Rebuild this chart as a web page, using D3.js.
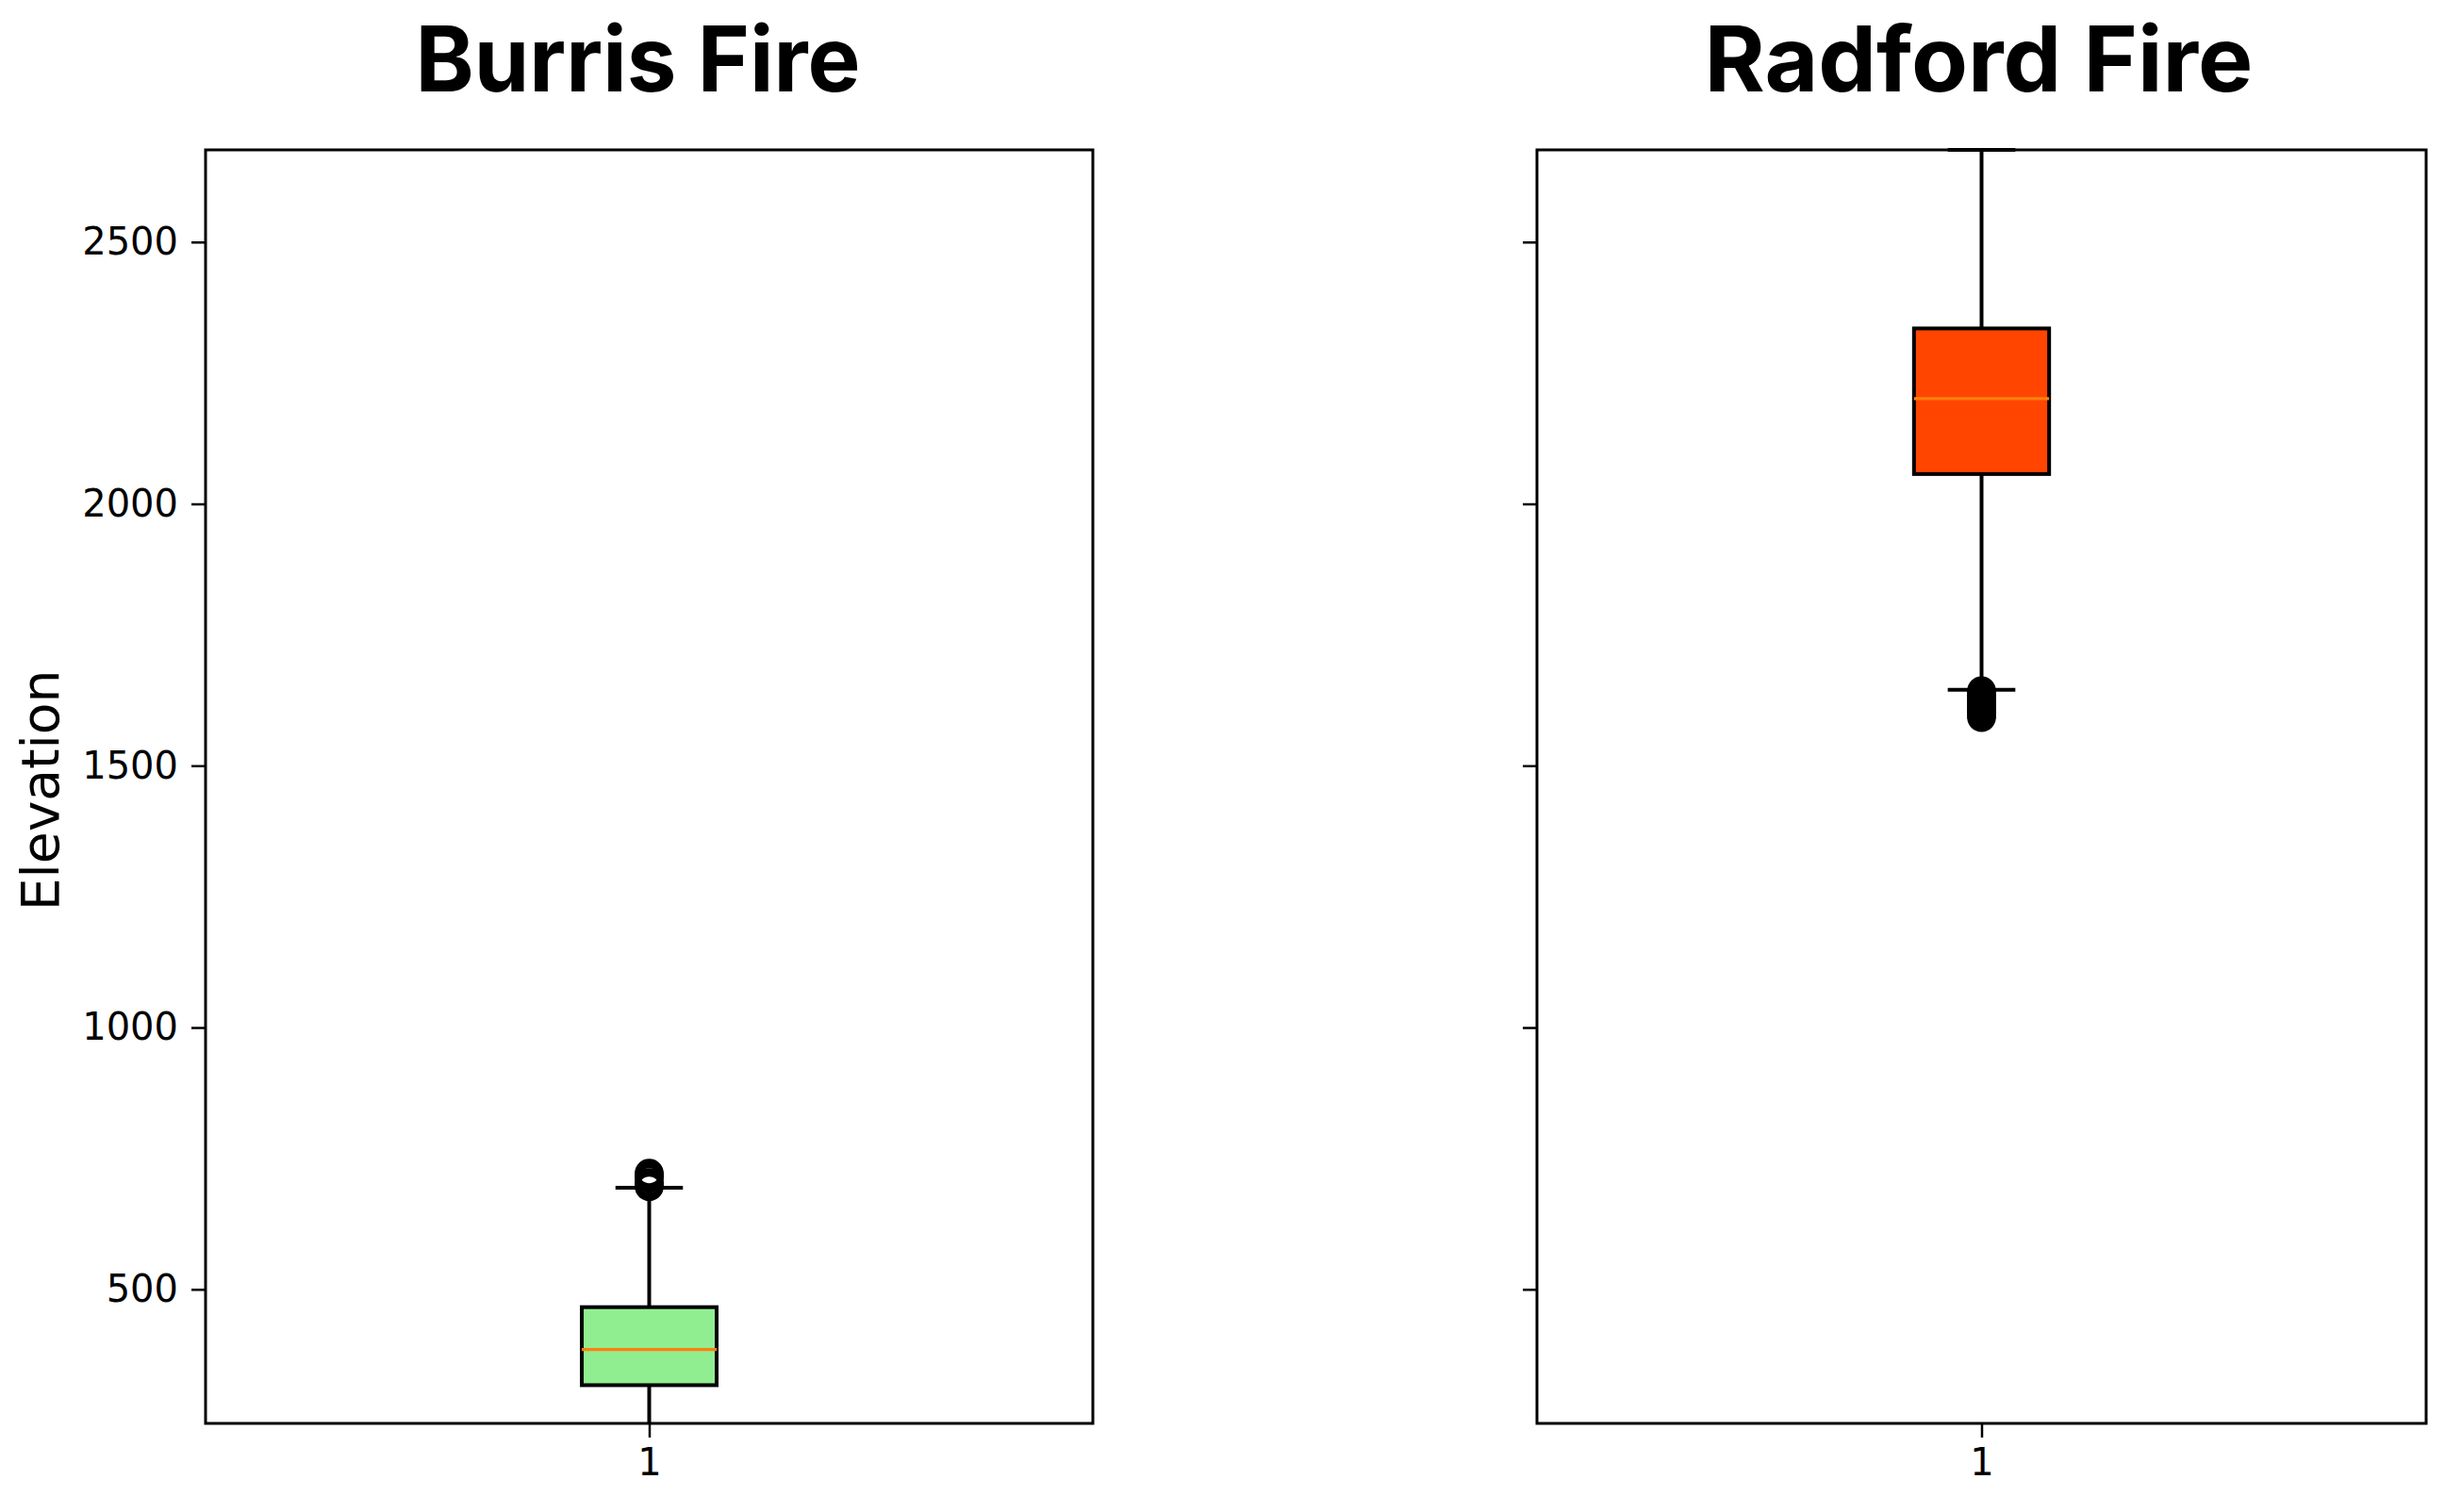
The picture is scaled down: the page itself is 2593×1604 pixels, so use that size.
<!DOCTYPE html>
<html>
<head>
<meta charset="utf-8">
<script src="https://cdn.jsdelivr.net/npm/d3@7"></script>
<style>
  html, body { margin: 0; padding: 0; background: #fff; }
  svg { display: block; }
</style>
</head>
<body>
<svg id="chart" width="2593" height="1604"></svg>
<script>
// ---- Data ----
const fires = ["Burris Fire", "Radford Fire"];
const fillColors = ["#90EE90", "#FF4500"];
// box statistics: [whiskerLow, q1, median, q3, whiskerHigh]
const burrisStats = [215, 317, 385, 466, 694];
const radfordStats = [1645, 2057, 2201, 2335, 2676];
const burrisOutliers = [696, 698, 700, 702, 704, 712, 715, 718, 720, 722];
const radfordOutliers = [1643, 1640, 1636, 1632, 1628, 1624, 1620, 1616, 1612, 1608, 1604, 1600, 1596, 1592];
const yTicks = [500, 1000, 1500, 2000, 2500];
const xTickLabels = ["1"];
const yDomain = [244, 2676];

const statsList = [burrisStats, radfordStats];
const outlierList = [burrisOutliers, radfordOutliers];

// ---- Layout ----
const plotTop = 159, plotBottom = 1510;
const panels = [
  { left: 218, right: 1159, titleShift: -12, titleLen: 472 },
  { left: 1630, right: 2573, titleShift: -3, titleLen: 582 }
];
const boxWidth = 0.152;
const capWidth = boxWidth / 2;

const svg = d3.select("#chart");
const y = d3.scaleLinear().domain(yDomain).range([plotBottom, plotTop]);

panels.forEach((p, i) => {
  const x = d3.scaleLinear().domain([0.5, 1.5]).range([p.left, p.right]);
  const g = svg.append("g");
  const clipId = "clip" + i;
  svg.append("clipPath").attr("id", clipId)
    .append("rect").attr("x", p.left).attr("y", plotTop - 2)
    .attr("width", p.right - p.left).attr("height", plotBottom - plotTop + 2);

  const [wLo, q1, med, q3, wHi] = statsList[i];
  const cx = x(1);
  const marks = g.append("g").attr("clip-path", `url(#${clipId})`);

  // whiskers
  marks.append("line").attr("x1", cx).attr("x2", cx)
    .attr("y1", y(q1)).attr("y2", y(wLo))
    .attr("stroke", "#000").attr("stroke-width", 4);
  marks.append("line").attr("x1", cx).attr("x2", cx)
    .attr("y1", y(q3)).attr("y2", y(wHi))
    .attr("stroke", "#000").attr("stroke-width", 4);
  // caps
  [wLo, wHi].forEach(v => {
    marks.append("line")
      .attr("x1", x(1 - capWidth / 2)).attr("x2", x(1 + capWidth / 2))
      .attr("y1", y(v)).attr("y2", y(v))
      .attr("stroke", "#000").attr("stroke-width", 4);
  });
  // box
  marks.append("rect")
    .attr("x", x(1 - boxWidth / 2)).attr("width", x(1 + boxWidth / 2) - x(1 - boxWidth / 2))
    .attr("y", y(q3)).attr("height", y(q1) - y(q3))
    .attr("fill", fillColors[i]).attr("stroke", "#000").attr("stroke-width", 4);
  // median
  marks.append("line")
    .attr("x1", x(1 - boxWidth / 2)).attr("x2", x(1 + boxWidth / 2))
    .attr("y1", y(med)).attr("y2", y(med))
    .attr("stroke", "#ff7f0e").attr("stroke-width", 3.2);
  // outliers (hollow circles)
  marks.selectAll("circle.out").data(outlierList[i]).enter()
    .append("circle").attr("class", "out")
    .attr("cx", cx).attr("cy", d => y(d)).attr("r", 13)
    .attr("fill", "none").attr("stroke", "#000").attr("stroke-width", 4.5);

  // frame
  g.append("rect").attr("x", p.left).attr("y", plotTop)
    .attr("width", p.right - p.left).attr("height", plotBottom - plotTop)
    .attr("fill", "none").attr("stroke", "#000").attr("stroke-width", 3);

  // y axis
  const yAxis = d3.axisLeft(y).tickValues(yTicks).tickSize(15).tickPadding(14)
    .tickFormat(i === 0 ? d3.format("d") : () => "");
  const ya = g.append("g").attr("transform", `translate(${p.left},0)`).call(yAxis);
  ya.select(".domain").remove();
  ya.selectAll(".tick line").attr("stroke", "#000").attr("stroke-width", 2.5);
  ya.selectAll(".tick text").attr("font-family", "DejaVu Sans").attr("font-size", 40).attr("fill", "#000");

  // x axis
  const xAxis = d3.axisBottom(x).tickValues([1]).tickSize(15).tickPadding(12)
    .tickFormat((d, k) => xTickLabels[k]);
  const xa = g.append("g").attr("transform", `translate(0,${plotBottom})`).call(xAxis);
  xa.select(".domain").remove();
  xa.selectAll(".tick line").attr("stroke", "#000").attr("stroke-width", 2.5);
  xa.selectAll(".tick text").attr("font-family", "DejaVu Sans").attr("font-size", 40).attr("fill", "#000");

  // title
  svg.append("text")
    .attr("x", (p.left + p.right) / 2 + p.titleShift).attr("y", 97)
    .attr("text-anchor", "middle")
    .attr("font-family", "Inter, 'Noto Sans', sans-serif").attr("font-weight", "bold").attr("font-size", 96)
    .attr("textLength", p.titleLen).attr("lengthAdjust", "spacingAndGlyphs")
    .attr("fill", "#000")
    .text(fires[i]);
});

// y-axis label
svg.append("text")
  .attr("transform", `translate(62,${(plotTop + plotBottom) / 2 + 4}) rotate(-90)`)
  .attr("text-anchor", "middle")
  .attr("font-family", "DejaVu Sans").attr("font-size", 55).attr("fill", "#000")
  .text("Elevation");
</script>
</body>
</html>
